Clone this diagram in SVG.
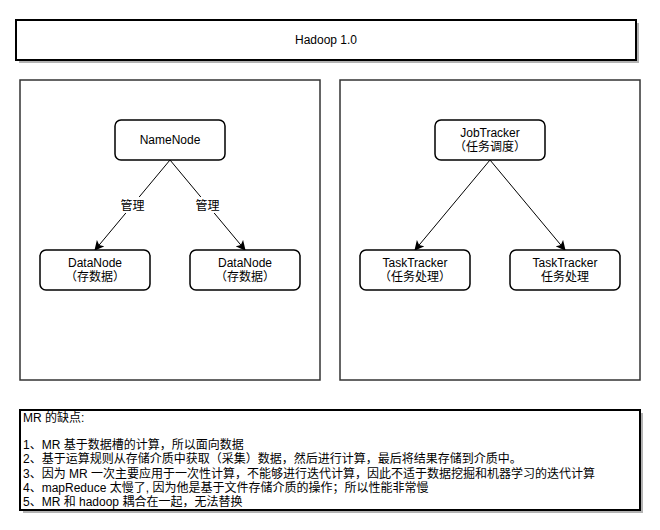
<svg xmlns="http://www.w3.org/2000/svg" width="660" height="530" viewBox="0 0 660 530">
<style>
text{font-family:"Liberation Sans","Noto Sans CJK SC",sans-serif;font-size:12px;fill:#000}
.c{text-anchor:middle}
.node{fill:#fff;stroke:#000;stroke-width:1.5}
.panel{fill:#fff;stroke:#333;stroke-width:1.5}
.box{fill:#fff;stroke:#000;stroke-width:2}
.shadow{fill:#b3b3b3}
.edge{stroke:#000;stroke-width:1;fill:none;marker-end:url(#arr)}
.lbl{fill:#fff}
</style>
<defs>
<marker id="arr" viewBox="0 0 10 10" refX="9" refY="5" markerWidth="10" markerHeight="10" markerUnits="userSpaceOnUse" orient="auto">
<path d="M0,0 L10,5 L0,10 L2.5,5 Z" fill="#000"/>
</marker>
</defs>
<rect width="660" height="530" fill="#fff"/>
<g id="title">
<rect class="shadow" x="19" y="23" width="620" height="40"/>
<rect class="box" x="16" y="20" width="620" height="40"/>
<text class="c" x="326" y="44">Hadoop 1.0</text>
</g>
<g id="panel-hdfs"><rect class="panel" x="20" y="80" width="300" height="300"/></g>
<g id="panel-mr"><rect class="panel" x="340" y="80" width="300" height="300"/></g>
<g id="connectors">
<line class="edge" x1="170" y1="160" x2="95" y2="250"/>
<line class="edge" x1="170" y1="160" x2="245" y2="250"/>
<line class="edge" x1="490" y1="160" x2="415" y2="250"/>
<line class="edge" x1="490" y1="160" x2="565" y2="250"/>
<rect class="lbl" x="120" y="197" width="25" height="16"/>
<text class="c" x="132.5" y="209.5">管理</text>
<rect class="lbl" x="195" y="197" width="25" height="16"/>
<text class="c" x="207.5" y="209.5">管理</text>
</g>
<g id="namenode">
<rect class="node" x="115" y="120" width="110" height="40" rx="6"/>
<text class="c" x="170" y="144">NameNode</text>
</g>
<g id="datanode1">
<rect class="node" x="40" y="250" width="110" height="40" rx="6"/>
<text class="c" x="95" y="267">DataNode</text>
<text class="c" x="95" y="281">（存数据）</text>
</g>
<g id="datanode2">
<rect class="node" x="190" y="250" width="110" height="40" rx="6"/>
<text class="c" x="245" y="267">DataNode</text>
<text class="c" x="245" y="281">（存数据）</text>
</g>
<g id="jobtracker">
<rect class="node" x="435" y="120" width="110" height="40" rx="6"/>
<text class="c" x="490" y="137">JobTracker</text>
<text class="c" x="490" y="151">（任务调度）</text>
</g>
<g id="tasktracker1">
<rect class="node" x="360" y="250" width="110" height="40" rx="6"/>
<text class="c" x="415" y="267">TaskTracker</text>
<text class="c" x="415" y="281">（任务处理）</text>
</g>
<g id="tasktracker2">
<rect class="node" x="510" y="250" width="110" height="40" rx="6"/>
<text class="c" x="565" y="267">TaskTracker</text>
<text class="c" x="565" y="281">任务处理</text>
</g>
<g id="notes">
<rect class="shadow" x="23" y="413" width="620" height="100"/>
<rect class="box" x="20" y="410" width="620" height="100"/>
<text x="23" y="422">MR 的缺点:</text>
<text x="23" y="449">1、MR 基于数据槽的计算，所以面向数据</text>
<text x="23" y="463">2、基于运算规则从存储介质中获取（采集）数据，然后进行计算，最后将结果存储到介质中。</text>
<text x="23" y="478">3、因为 MR 一次主要应用于一次性计算，不能够进行迭代计算，因此不适于数据挖掘和机器学习的迭代计算</text>
<text x="23" y="492">4、mapReduce 太慢了, 因为他是基于文件存储介质的操作；所以性能非常慢</text>
<text x="23" y="506">5、MR 和 hadoop 耦合在一起，无法替换</text>
</g>
</svg>
